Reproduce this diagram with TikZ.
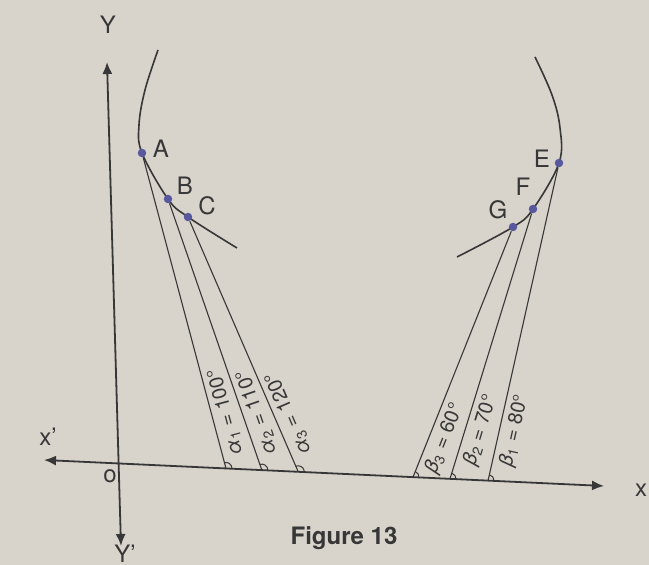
\documentclass[tikz,border=0pt]{standalone}
\usepackage{fontspec}
\setmainfont{TeX Gyre Heros}
\usetikzlibrary{arrows.meta,calc,angles}
\definecolor{papir}{RGB}{216,211,203}
\definecolor{tinta}{RGB}{55,55,55}
\definecolor{pontszin}{RGB}{88,88,158}
\newcommand{\szg}[3]{\textit{#1}\textsubscript{#2}~=~#3°}
\tikzset{
  pnt/.style={circle,fill=pontszin,inner sep=1.5pt},
  ketnyil/.style={{Latex[length=6pt,width=5pt]}-{Latex[length=6pt,width=5pt]}},
  tengely/.style={draw=tinta,line width=0.9pt},
  gorbe/.style={draw=tinta,line width=0.8pt},
  sugar/.style={draw=tinta,line width=0.55pt},
  betu/.style={font=\large,text=tinta},
  szov/.style={sloped,allow upside down,below,inner sep=2.5pt,text=tinta,font=\normalsize},
  szog/.style={draw=tinta,line width=0.5pt,angle radius=3pt},
}
\begin{document}
\begin{tikzpicture}[x=0.5pt,y=-0.5pt]
  \fill[papir] (0,0) rectangle (649,565);
  \useasboundingbox (0,0) rectangle (649,565);
  % axes
  \coordinate (yt) at (107,62);
  \coordinate (yb) at (121,546);
  \coordinate (xl) at (44,460);
  \coordinate (xr) at (604,486);
  \draw[tengely,ketnyil] (yt) -- (yb);
  \draw[tengely,ketnyil] (xl) -- (xr);
  \node[betu] (ly) at (108,25) {Y};
  \node[betu] (lyv) at (125,554) {Y'};
  \node[betu] (lxv) at (48,437) {x'};
  \node[betu] (lx) at (641,490) {x};
  \node[betu] (lo) at (110,476) {o};
  % the two curves
  \draw[gorbe] plot[smooth,tension=0.6] coordinates
    {(158,50) (145,90) (139,125) (142,153) (168,199) (188,217) (237,248)};
  \draw[gorbe] plot[smooth,tension=0.6] coordinates
    {(535,57) (552,95) (560,128) (559,163) (533,209) (513,227) (457,257)};
  \node[pnt] (A) at (142,153) {};
  \node[pnt] (B) at (168,199) {};
  \node[pnt] (C) at (188,217) {};
  \node[pnt] (E) at (559,163) {};
  \node[pnt] (F) at (533,209) {};
  \node[pnt] (G) at (513,227) {};
  \node[betu] (la) at (161,149) {A};
  \node[betu] (lb) at (185,186) {B};
  \node[betu] (lc) at (207,206) {C};
  \node[betu] (le) at (542,159) {E};
  \node[betu] (lf) at (523,187) {F};
  \node[betu] (lg) at (498,210) {G};
  % feet on the x axis
  \coordinate (a1) at ($(xl)!0.325!(xr)$);
  \coordinate (a2) at ($(xl)!0.389!(xr)$);
  \coordinate (a3) at ($(xl)!0.454!(xr)$);
  \coordinate (b3) at ($(xl)!0.659!(xr)$);
  \coordinate (b2) at ($(xl)!0.725!(xr)$);
  \coordinate (b1) at ($(xl)!0.793!(xr)$);
  \draw[sugar] (a1) -- node[szov,pos=0.17] {\szg{α}{1}{100}} (A);
  \draw[sugar] (a2) -- node[szov,pos=0.2] {\szg{α}{2}{110}} (B);
  \draw[sugar] (a3) -- node[szov,pos=0.21] {\szg{α}{3}{120}} (C);
  \draw[sugar] (b3) -- node[szov,pos=0.18] {\szg{β}{3}{60}} (G);
  \draw[sugar] (b2) -- node[szov,pos=0.2] {\szg{β}{2}{70}} (F);
  \draw[sugar] (b1) -- node[szov,pos=0.17] {\szg{β}{1}{80}} (E);
  \foreach \f/\p in {a1/A,a2/B,a3/C,b3/G,b2/F,b1/E}
    \pic[szog] {angle=xr--\f--\p};
  \node[font=\bfseries\large,text=tinta] (cim) at (344,538) {Figure 13};
\end{tikzpicture}
\end{document}
